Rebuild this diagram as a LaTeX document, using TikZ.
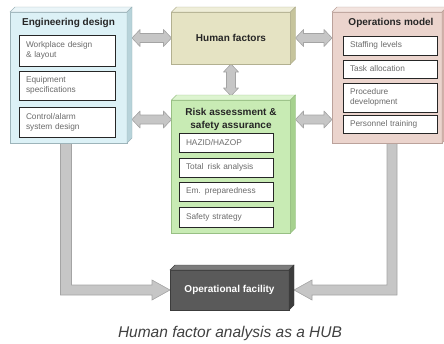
\documentclass[tikz,border=0pt]{standalone}
\usepackage{fontspec}
\setmainfont{Liberation Sans}
\usetikzlibrary{calc}
\pgfdeclarelayer{bg}
\pgfsetlayers{bg,main}
\definecolor{engface}{HTML}{DCF1F6}
\definecolor{engtop}{HTML}{EAF5F8}
\definecolor{engside}{HTML}{B7D3DA}
\definecolor{engline}{HTML}{9DB4BA}
\definecolor{hfface}{HTML}{E5E3C3}
\definecolor{hftop}{HTML}{EFEED9}
\definecolor{hfside}{HTML}{C6C49C}
\definecolor{hfline}{HTML}{B2B090}
\definecolor{rkface}{HTML}{C8EBB4}
\definecolor{rktop}{HTML}{DDF4D0}
\definecolor{rkside}{HTML}{A6D18E}
\definecolor{rkline}{HTML}{98BF84}
\definecolor{opface}{HTML}{EBD4CD}
\definecolor{optop}{HTML}{F3E4DF}
\definecolor{opside}{HTML}{D0B1A9}
\definecolor{opline}{HTML}{BBA29B}
\definecolor{offace}{HTML}{5A5A5A}
\definecolor{oftop}{HTML}{7C7C7C}
\definecolor{ofside}{HTML}{3C3C3C}
\definecolor{arrfill}{HTML}{C6C6C6}
\definecolor{arrline}{HTML}{A4A4A4}
\newcommand\bevel[4]{%
  \filldraw[fill=#2,draw=#4,line width=0.4pt] (#1.north west) -- ++(5,-5) -- ($(#1.north east)+(5,-5)$) -- (#1.north east) -- cycle;
  \filldraw[fill=#3,draw=#4,line width=0.4pt] (#1.north east) -- ++(5,-5) -- ($(#1.south east)+(5,-5)$) -- (#1.south east) -- cycle;}
\newcommand\harr[2]{\draw[arr] let \p1=(#1),\p2=(#2) in
  (\x1,\y1) -- (\x1+8pt,\y1+8.5pt) -- (\x1+8pt,\y1+4.5pt) -- (\x2-8pt,\y1+4.5pt) -- (\x2-8pt,\y1+8.5pt) -- (\x2,\y1)
  -- (\x2-8pt,\y1-8.5pt) -- (\x2-8pt,\y1-4.5pt) -- (\x1+8pt,\y1-4.5pt) -- (\x1+8pt,\y1-8.5pt) -- cycle;}
\newcommand\varr[2]{\draw[arr] let \p1=(#1),\p2=(#2) in
  (\x1,\y1) -- (\x1+7.5pt,\y1-8pt) -- (\x1+4.5pt,\y1-8pt) -- (\x1+4.5pt,\y2+8pt) -- (\x1+7.5pt,\y2+8pt) -- (\x1,\y2)
  -- (\x1-7.5pt,\y2+8pt) -- (\x1-4.5pt,\y2+8pt) -- (\x1-4.5pt,\y1-8pt) -- (\x1-7.5pt,\y1-8pt) -- cycle;}
\tikzset{
  face/.style={rectangle, line width=0.5pt, outer sep=0pt, inner sep=0pt, anchor=north west},
  inbox/.style={rectangle, draw=black!85, line width=0.8pt, fill=white, outer sep=0pt,
    inner xsep=7pt, inner ysep=0pt, anchor=north west, text=black!58,
    font=\fontsize{8.3}{10}\selectfont, align=left},
  ebox/.style={inbox, text width=82pt},
  rbox/.style={inbox, text width=80pt},
  ttl/.style={font=\fontsize{10}{12.5}\selectfont\bfseries, text=black!85, align=center, inner sep=0pt},
  arr/.style={fill=arrfill, draw=arrline, line width=0.6pt, line join=round},
  bar/.style={fill=arrfill, draw=arrline, line width=0.6pt}
}
\begin{document}
\begin{tikzpicture}[x=1pt,y=-1pt]
\useasboundingbox (0,0) rectangle (444,343);
% Engineering design
\node[face, fill=engface, draw=engline, minimum width=117pt, minimum height=131pt] (eng) at (10,12) {};
\bevel{eng}{engtop}{engside}{engline}
\node[ttl] (engt) at (68.5,23) {Engineering design};
\node[ebox, minimum height=31pt] (e1) at (19,35) {Workplace design\\\& layout};
\node[ebox, minimum height=29pt] (e2) at (19,71) {Equipment\\specifications};
\node[ebox, minimum height=30pt] (e3) at (19,107) {Control/alarm\\system design};
% Human factors
\node[face, fill=hfface, draw=hfline, minimum width=119pt, minimum height=52pt] (hf) at (171.5,12) {};
\bevel{hf}{hftop}{hfside}{hfline}
\node[ttl] (hft) at (hf.center) {Human factors};
% Risk
\node[face, fill=rkface, draw=rkline, minimum width=119pt, minimum height=133pt] (risk) at (171.5,100) {};
\bevel{risk}{rktop}{rkside}{rkline}
\node[ttl] (riskt) at (231,119.5) {Risk assessment \&\\safety assurance};
\node[rbox, minimum height=19pt] (r1) at (179,133) {HAZID/HAZOP};
\node[rbox, minimum height=19pt] (r2) at (179,158) {Total \,risk analysis};
\node[rbox, minimum height=19pt] (r3) at (179,182) {Em. preparedness};
\node[rbox, minimum height=20pt] (r4) at (179,207) {Safety strategy};
% Operations model
\node[face, fill=opface, draw=opline, minimum width=110pt, minimum height=131pt] (ops) at (332,12) {};
\bevel{ops}{optop}{opside}{opline}
\node[ttl] (opst) at (391,23) {Operations model};
\node[rbox, minimum height=19pt] (o1) at (343,36) {Staffing levels};
\node[rbox, minimum height=18pt] (o2) at (343,60) {Task allocation};
\node[rbox, minimum height=29pt] (o3) at (343,83) {Procedure\\development};
\node[rbox, minimum height=18pt] (o4) at (343,115) {Personnel training};
% Operational facility
\node[face, fill=offace, draw=ofside, minimum width=119pt, minimum height=40pt] (of) at (170,270) {};
\bevel{of}{oftop}{ofside}{ofside}
\node[ttl, text=white] (oft) at (of.center) {Operational facility};
% Caption
\node[font=\fontsize{15.5}{18}\selectfont\itshape, text=black!75, anchor=base, inner sep=0pt] (cap) at (230,337) {Human factor analysis as a HUB};
% Connectors
\begin{pgfonlayer}{bg}
\harr{$(eng.east |- hf.west)+(5,0)$}{hf.west}
\harr{$(eng.east |- riskt)+(5,0)$}{risk.west |- riskt}
\harr{$(hf.east)+(5,0)$}{ops.west |- hf.east}
\harr{$(risk.east |- riskt)+(5,0)$}{ops.west |- riskt}
\varr{hf.south}{$(risk.north)+(0,-4)$}
\draw[bar] let \p1=($(eng.south)+(-2.5,0)$), \p2=(of.west) in
  (\x1-5.5pt,\y1) -- (\x1-5.5pt,\y2-5pt) -- (\x2-18pt,\y2-5pt) -- (\x2-18pt,\y2-10pt) -- (\x2,\y2)
  -- (\x2-18pt,\y2+10pt) -- (\x2-18pt,\y2+5pt) -- (\x1+5.5pt,\y2+5pt) -- (\x1+5.5pt,\y1) -- cycle;
\draw[bar] let \p1=($(ops.south)+(5,0)$), \p2=($(of.east)+(5,0)$) in
  (\x1+5pt,\y1) -- (\x1+5pt,\y2-5pt) -- (\x2+18pt,\y2-5pt) -- (\x2+18pt,\y2-10pt) -- (\x2,\y2)
  -- (\x2+18pt,\y2+10pt) -- (\x2+18pt,\y2+5pt) -- (\x1-5pt,\y2+5pt) -- (\x1-5pt,\y1) -- cycle;
\end{pgfonlayer}
\end{tikzpicture}
\end{document}
